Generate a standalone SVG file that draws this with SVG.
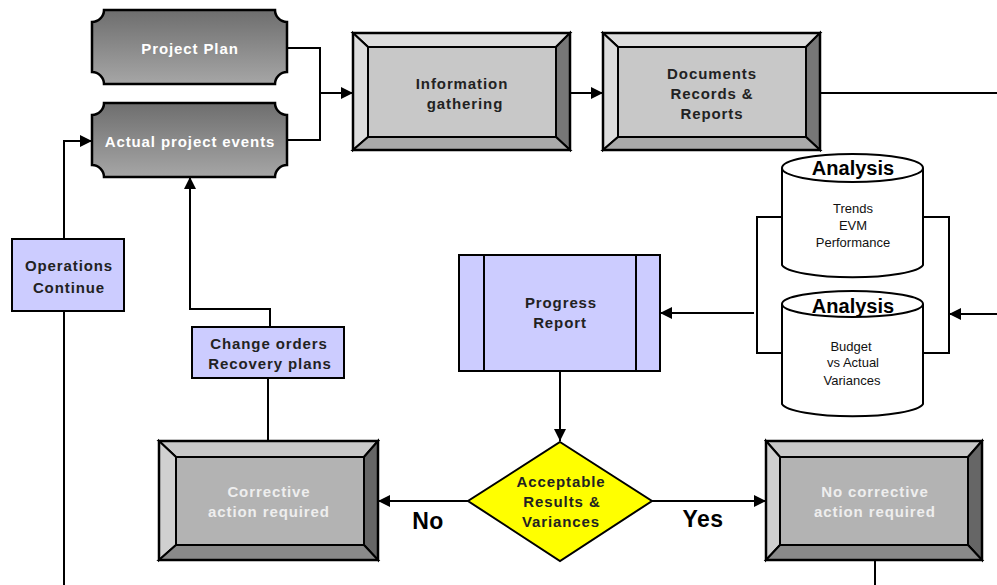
<svg xmlns="http://www.w3.org/2000/svg" width="997" height="585" viewBox="0 0 997 585">
<defs>
<linearGradient id="plq" x1="0" y1="0" x2="0" y2="1">
<stop offset="0" stop-color="#6e6e6e"/>
<stop offset="1" stop-color="#a6a6a6"/>
</linearGradient>
<marker id="arr" viewBox="0 0 10 10" refX="10" refY="5" markerWidth="12" markerHeight="12" markerUnits="userSpaceOnUse" orient="auto">
<path d="M0,0 L10,5 L0,10 Z" fill="#000"/>
</marker>
</defs>
<style>
.ln{fill:none;stroke:#000;stroke-width:2}
.ol{stroke:#000;stroke-width:2.5}
.bl{stroke:#000;stroke-width:2}
.t{font-family:"Liberation Sans",Arial,sans-serif;font-weight:bold;font-size:15px;letter-spacing:0.9px;text-anchor:middle}
.w{fill:#fff}
.lw{fill:#eeeeee}
.d{fill:#222}
.n{font-family:"Liberation Sans",Arial,sans-serif;font-size:13px;text-anchor:middle;fill:#111}
.big{font-family:"Liberation Sans",Arial,sans-serif;font-weight:bold;font-size:20px;text-anchor:middle;fill:#000}
.yn{font-family:"Liberation Sans",Arial,sans-serif;font-weight:bold;font-size:23px;letter-spacing:0.5px;text-anchor:middle;fill:#000}
.lav{fill:#ccccff;stroke:#000;stroke-width:2}
</style>

<g id="connectors">
<path class="ln" d="M287,48 H320 V140 H287"/>
<path class="ln" d="M320,93 H353" marker-end="url(#arr)"/>
<path class="ln" d="M570,93 H603" marker-end="url(#arr)"/>
<path class="ln" d="M820,93 H997"/>
<path class="ln" d="M782,217 H757 V353 H782"/>
<path class="ln" d="M923,217 H949 V353 H923"/>
<path class="ln" d="M997,314 H949" marker-end="url(#arr)"/>
<path class="ln" d="M754,313 H660" marker-end="url(#arr)"/>
<path class="ln" d="M560,371 V441" marker-end="url(#arr)"/>
<path class="ln" d="M468,501 H378" marker-end="url(#arr)"/>
<path class="ln" d="M652,501 H766" marker-end="url(#arr)"/>
<path class="ln" d="M875,560 V585"/>
<path class="ln" d="M268,441 V378"/>
<path class="ln" d="M270,327 V309 H190 V177" marker-end="url(#arr)"/>
<path class="ln" d="M64,585 V311"/>
<path class="ln" d="M64,239 V141 H92" marker-end="url(#arr)"/>
</g>

<g id="project-plan">
<path d="M104,10 H275 A12,12 0 0 0 287,22 V72 A12,12 0 0 0 275,84 H104 A12,12 0 0 0 92,72 V22 A12,12 0 0 0 104,10 Z" fill="url(#plq)" class="ol"/>
<text class="t w" x="190" y="54">Project Plan</text>
</g>

<g id="actual-project-events">
<path d="M104,103 H275 A12,12 0 0 0 287,115 V165 A12,12 0 0 0 275,177 H104 A12,12 0 0 0 92,165 V115 A12,12 0 0 0 104,103 Z" fill="url(#plq)" class="ol"/>
<text class="t w" x="190" y="147">Actual project events</text>
</g>

<g id="information-gathering">
<rect x="353" y="33" width="217" height="117" fill="#c8c8c8"/>
<polygon points="353,33 570,33 556,47 368,47" fill="#dddddd" class="bl"/>
<polygon points="353,33 368,47 368,137 353,150" fill="#dddddd" class="bl"/>
<polygon points="570,33 570,150 556,137 556,47" fill="#777777" class="bl"/>
<polygon points="353,150 368,137 556,137 570,150" fill="#aaaaaa" class="bl"/>
<rect x="368" y="47" width="188" height="90" fill="#c8c8c8" class="bl"/>
<rect x="353" y="33" width="217" height="117" fill="none" class="ol"/>
<text class="t d" x="462" y="89">Information</text>
<text class="t d" x="465" y="109">gathering</text>
</g>

<g id="documents">
<polygon points="603,33 820,33 806,47 618,47" fill="#dddddd" class="bl"/>
<polygon points="603,33 618,47 618,137 603,150" fill="#dddddd" class="bl"/>
<polygon points="820,33 820,150 806,137 806,47" fill="#777777" class="bl"/>
<polygon points="603,150 618,137 806,137 820,150" fill="#aaaaaa" class="bl"/>
<rect x="618" y="47" width="188" height="90" fill="#c8c8c8" class="bl"/>
<rect x="603" y="33" width="217" height="117" fill="none" class="ol"/>
<text class="t d" x="712" y="79">Documents</text>
<text class="t d" x="712" y="99">Records &amp;</text>
<text class="t d" x="712" y="119">Reports</text>
</g>

<g id="analysis-trends">
<path d="M782,168 V265 A71,14 0 0 0 923,265 V168" fill="#fff" class="bl"/>
<ellipse cx="852.5" cy="168" rx="70.5" ry="14" fill="#fff" class="bl"/>
<text class="big" x="853" y="175">Analysis</text>
<text class="n" x="853" y="213">Trends</text>
<text class="n" x="853" y="230">EVM</text>
<text class="n" x="853" y="247">Performance</text>
</g>

<g id="analysis-budget">
<path d="M782,304 V404 A71,14 0 0 0 923,404 V304" fill="#fff" class="bl"/>
<ellipse cx="852.5" cy="304" rx="70.5" ry="13" fill="#fff" class="bl"/>
<text class="big" x="853" y="313">Analysis</text>
<text class="n" x="851" y="351">Budget</text>
<text class="n" x="853" y="367">vs Actual</text>
<text class="n" x="852" y="385">Variances</text>
</g>

<g id="progress-report">
<rect x="459" y="255" width="201" height="116" class="lav"/>
<line x1="484" y1="255" x2="484" y2="371" class="bl"/>
<line x1="636" y1="255" x2="636" y2="371" class="bl"/>
<text class="t d" x="561" y="308">Progress</text>
<text class="t d" x="560" y="328">Report</text>
</g>

<g id="decision">
<polygon points="560,442 652,501 560,561 468,501" fill="#ffff00" class="bl"/>
<text class="t d" x="561" y="487">Acceptable</text>
<text class="t d" x="562" y="507">Results &amp;</text>
<text class="t d" x="561" y="527">Variances</text>
</g>

<text class="yn" x="428" y="529">No</text>
<text class="yn" x="703" y="527">Yes</text>

<g id="corrective">
<polygon points="159,441 378,441 364,457 176,457" fill="#c8c8c8" class="bl"/>
<polygon points="159,441 176,457 176,545 159,560" fill="#d0d0d0" class="bl"/>
<polygon points="378,441 378,560 364,545 364,457" fill="#666666" class="bl"/>
<polygon points="159,560 176,545 364,545 378,560" fill="#8a8a8a" class="bl"/>
<rect x="176" y="457" width="188" height="88" fill="#b3b3b3" class="bl"/>
<rect x="159" y="441" width="219" height="119" fill="none" class="ol"/>
<text class="t lw" x="269" y="497">Corrective</text>
<text class="t lw" x="269" y="517">action required</text>
</g>

<g id="no-corrective">
<polygon points="766,441 982,441 968,457 780,457" fill="#c8c8c8" class="bl"/>
<polygon points="766,441 780,457 780,545 766,560" fill="#d0d0d0" class="bl"/>
<polygon points="982,441 982,560 968,545 968,457" fill="#666666" class="bl"/>
<polygon points="766,560 780,545 968,545 982,560" fill="#8a8a8a" class="bl"/>
<rect x="780" y="457" width="188" height="88" fill="#b3b3b3" class="bl"/>
<rect x="766" y="441" width="216" height="119" fill="none" class="ol"/>
<text class="t lw" x="875" y="497">No corrective</text>
<text class="t lw" x="875" y="517">action required</text>
</g>

<g id="change-orders">
<rect x="192" y="327" width="152" height="51" class="lav"/>
<text class="t d" x="269" y="349">Change orders</text>
<text class="t d" x="270" y="369">Recovery plans</text>
</g>

<g id="operations-continue">
<rect x="12" y="239" width="112" height="72" class="lav"/>
<text class="t d" x="69" y="271">Operations</text>
<text class="t d" x="69" y="293">Continue</text>
</g>
</svg>
